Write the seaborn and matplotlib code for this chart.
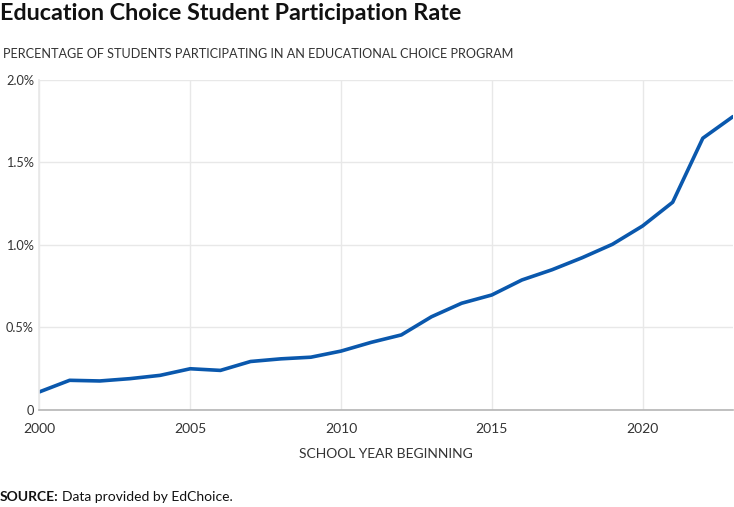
import matplotlib
matplotlib.use("Agg")
import matplotlib.pyplot as plt
import seaborn as sns
import pandas as pd

years = list(range(2000, 2024))
rates = [0.11, 0.18, 0.176, 0.19, 0.21, 0.25, 0.24, 0.294, 0.31, 0.32, 0.357,
         0.41, 0.455, 0.565, 0.647, 0.697, 0.788, 0.85, 0.923, 1.004, 1.115,
         1.259, 1.647, 1.778]
y_ticks = [0, 0.5, 1.0, 1.5, 2.0]
y_labels = ["0", "0.5%", "1.0%", "1.5%", "2.0%"]
x_ticks = [2000, 2005, 2010, 2015, 2020]

df = pd.DataFrame({"year": years, "rate": rates})

sns.set_theme(style="white")
plt.rcParams["font.family"] = ["Lato", "DejaVu Sans"]

fig = plt.figure(figsize=(7.34, 5.07), dpi=100)
ax = fig.add_axes([0.0538, 0.1913, 0.9448, 0.651])

sns.lineplot(data=df, x="year", y="rate", ax=ax, color="#0a58ad", linewidth=2.6)

ax.set_xlim(2000, 2023)
ax.set_ylim(0, 2.0)
ax.set_yticks(y_ticks)
ax.set_yticklabels(y_labels)
ax.set_xticks(x_ticks)
ax.set_xticklabels([str(x) for x in x_ticks])
ax.tick_params(axis="both", length=0, labelsize=10, labelcolor="#333333")
ax.tick_params(axis="y", pad=4, labelsize=9.2)
ax.tick_params(axis="x", pad=9)
ax.grid(True, color="#e8e8e8", linewidth=1)
ax.set_axisbelow(True)
for s in ["top", "right"]:
    ax.spines[s].set_visible(False)
ax.spines["left"].set_color("#e8e8e8")
ax.spines["bottom"].set_color("#b5b5b5")
ax.spines["bottom"].set_linewidth(1.2)
ax.set_ylabel("")
ax.set_xlabel("SCHOOL YEAR BEGINNING", fontsize=10, color="#333333", labelpad=10)

fig.text(0.0, 1 - 14 / 507, "Education Choice Student Participation Rate",
         fontsize=16.8, fontweight="bold", color="#111111", va="center", ha="left")
fig.text(0.004, 1 - 54 / 507,
         "PERCENTAGE OF STUDENTS PARTICIPATING IN AN EDUCATIONAL CHOICE PROGRAM",
         fontsize=9.1, color="#333333", va="center", ha="left")
t = fig.text(0.0, 1 - 497 / 507, "SOURCE:", fontsize=10, fontweight="bold",
             color="#111111", va="center", ha="left")
fig.canvas.draw()
bb = t.get_window_extent()
fig.text((bb.x1 + 3) / fig.bbox.width, 1 - 497 / 507, "Data provided by EdChoice.",
         fontsize=10, color="#111111", va="center", ha="left")

fig.savefig("out.png", dpi=100)
